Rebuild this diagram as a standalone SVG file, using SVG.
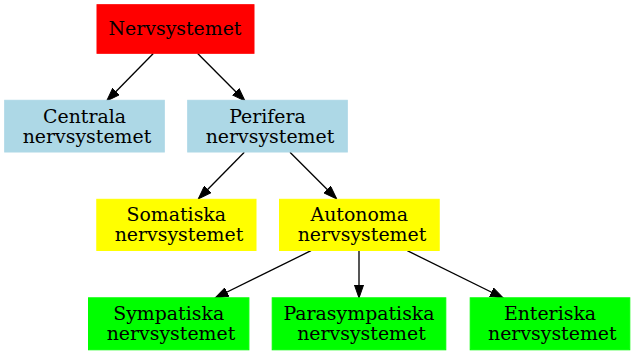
<svg xmlns="http://www.w3.org/2000/svg" width="635" height="355" viewBox="0 0 635 355">
<style>
.lbl{font-family:"DejaVu Serif","Liberation Serif",serif;font-size:18.9px;fill:#000;text-anchor:middle}
.red{fill:#ff0000;stroke:#ff0000}
.blue{fill:#add8e6;stroke:#add8e6}
.yel{fill:#ffff00;stroke:#ffff00}
.grn{fill:#00ff00;stroke:#00ff00}
.edge{stroke:#000;stroke-width:1.33;fill:none;marker-end:url(#arr)}
</style>
<defs>
<marker id="arr" markerUnits="userSpaceOnUse" markerWidth="14" markerHeight="10" refX="13.3" refY="4.67" orient="auto" viewBox="0 0 14 9.33">
<path d="M0,0 L13.3,4.67 L0,9.33 Z" fill="#000" stroke="#000" stroke-width="1"/>
</marker>
</defs>
<rect width="635" height="355" fill="#fff"/>
<g id="edges">
<line class="edge" x1="153.3" y1="53.5" x2="106.7" y2="101"/>
<line class="edge" x1="197.7" y1="53.5" x2="245" y2="101"/>
<line class="edge" x1="244.3" y1="152.3" x2="198.3" y2="199"/>
<line class="edge" x1="290" y1="152.3" x2="336.7" y2="199"/>
<line class="edge" x1="311" y1="250.7" x2="215" y2="298"/>
<line class="edge" x1="359" y1="250.7" x2="359" y2="298"/>
<line class="edge" x1="407.3" y1="250.7" x2="503.3" y2="298"/>
</g>
<g id="nervsystemet">
<rect class="red" x="97" y="4.7" width="157" height="48.6"/>
<text class="lbl" x="175" y="34.5">Nervsystemet</text>
</g>
<g id="centrala">
<rect class="blue" x="4.7" y="100.3" width="159.6" height="51.7"/>
<text class="lbl" x="84.5" y="122.8">Centrala</text>
<text class="lbl" x="87" y="143">nervsystemet</text>
</g>
<g id="perifera">
<rect class="blue" x="187.7" y="100.3" width="159.6" height="51.7"/>
<text class="lbl" x="267.5" y="122.8">Perifera</text>
<text class="lbl" x="270" y="143">nervsystemet</text>
</g>
<g id="somatiska">
<rect class="yel" x="96.8" y="199.3" width="159.2" height="51.2"/>
<text class="lbl" x="176.3" y="220.5">Somatiska</text>
<text class="lbl" x="179" y="241">nervsystemet</text>
</g>
<g id="autonoma">
<rect class="yel" x="279.5" y="199.3" width="159.7" height="51.2"/>
<text class="lbl" x="359.3" y="220.5">Autonoma</text>
<text class="lbl" x="362" y="241">nervsystemet</text>
</g>
<g id="sympatiska">
<rect class="grn" x="88.5" y="297.8" width="160.4" height="52"/>
<text class="lbl" x="168.7" y="319.5">Sympatiska</text>
<text class="lbl" x="171" y="340">nervsystemet</text>
</g>
<g id="parasympatiska">
<rect class="grn" x="272.2" y="297.8" width="173.6" height="52"/>
<text class="lbl" x="359" y="319.5">Parasympatiska</text>
<text class="lbl" x="361.5" y="340">nervsystemet</text>
</g>
<g id="enteriska">
<rect class="grn" x="470.2" y="297.8" width="159.6" height="52"/>
<text class="lbl" x="550" y="319.5">Enteriska</text>
<text class="lbl" x="552.3" y="340">nervsystemet</text>
</g>
</svg>
